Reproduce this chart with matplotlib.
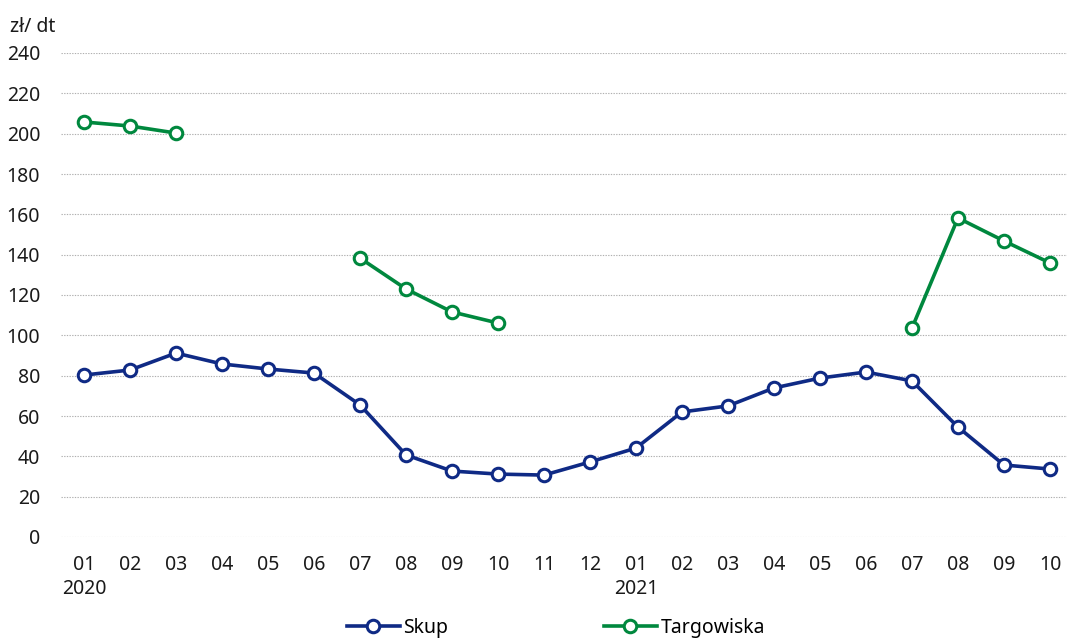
import numpy as np
import matplotlib
matplotlib.use("Agg")
import matplotlib.pyplot as plt

plt.rcParams['font.family'] = ['Noto Sans', 'DejaVu Sans']

months = ["01\n2020", "02", "03", "04", "05", "06", "07", "08", "09", "10", "11", "12",
          "01\n2021", "02", "03", "04", "05", "06", "07", "08", "09", "10"]
skup = [80.3, 82.8, 91.2, 85.8, 83.3, 81.3, 65.5, 40.7, 32.7, 31.2, 30.7, 37.2,
        44.1, 62.0, 65.0, 73.9, 78.8, 81.8, 77.4, 54.5, 35.7, 33.7]
targowiska = [205.8, 203.8, 200.3, np.nan, np.nan, np.nan, 138.3, 123.0, 111.6, 106.1, np.nan, np.nan,
              np.nan, np.nan, np.nan, np.nan, np.nan, np.nan, 103.6, 158.2, 146.8, 135.9]
yticks = list(range(0, 241, 20))

W, H = 1067, 640
fig = plt.figure(figsize=(W / 100, H / 100), dpi=100)
ax = fig.add_axes([61 / W, 1 - 537 / H, 1 - 61 / W, (537 - 53) / H])

x = np.arange(len(months))
blue = "#0f2a85"
green = "#00883e"
mk = dict(marker="o", markersize=9, markerfacecolor="white", markeredgewidth=2.2)
ax.plot(x, skup, color=blue, linewidth=2.6, label="Skup", **mk)
ax.plot(x, targowiska, color=green, linewidth=2.6, label="Targowiska", **mk)

ax.set_xlim(-0.5, 21.37)
ax.set_ylim(0, 240)
ax.set_yticks(yticks)
ax.set_yticklabels([str(v) for v in yticks], fontsize=14)
ax.set_xticks(x)
ax.set_xticklabels(months, fontsize=14, linespacing=1.25, va="top")
for lab in ax.get_xticklabels():
    lab.set_horizontalalignment("center")
ax.tick_params(axis="both", length=0, colors="#1a1a1a")
ax.tick_params(axis="y", pad=15)
ax.tick_params(axis="x", pad=13)
for s in ax.spines.values():
    s.set_visible(False)
ax.grid(axis="y", linestyle=(0, (1.2, 1.2)), color="#b0b0b0", linewidth=0.8)
ax.set_axisbelow(True)

fig.text(10 / W, 1 - 27 / H, "zł/ dt", fontsize=14, va="center", ha="left", color="#1a1a1a")

fig.legend(loc="center", bbox_to_anchor=(556 / W, 1 - 628 / H), ncol=2, frameon=False,
           fontsize=14, handlelength=2.7, handletextpad=0.2, columnspacing=8.0)

fig.savefig("out.png", dpi=100)
